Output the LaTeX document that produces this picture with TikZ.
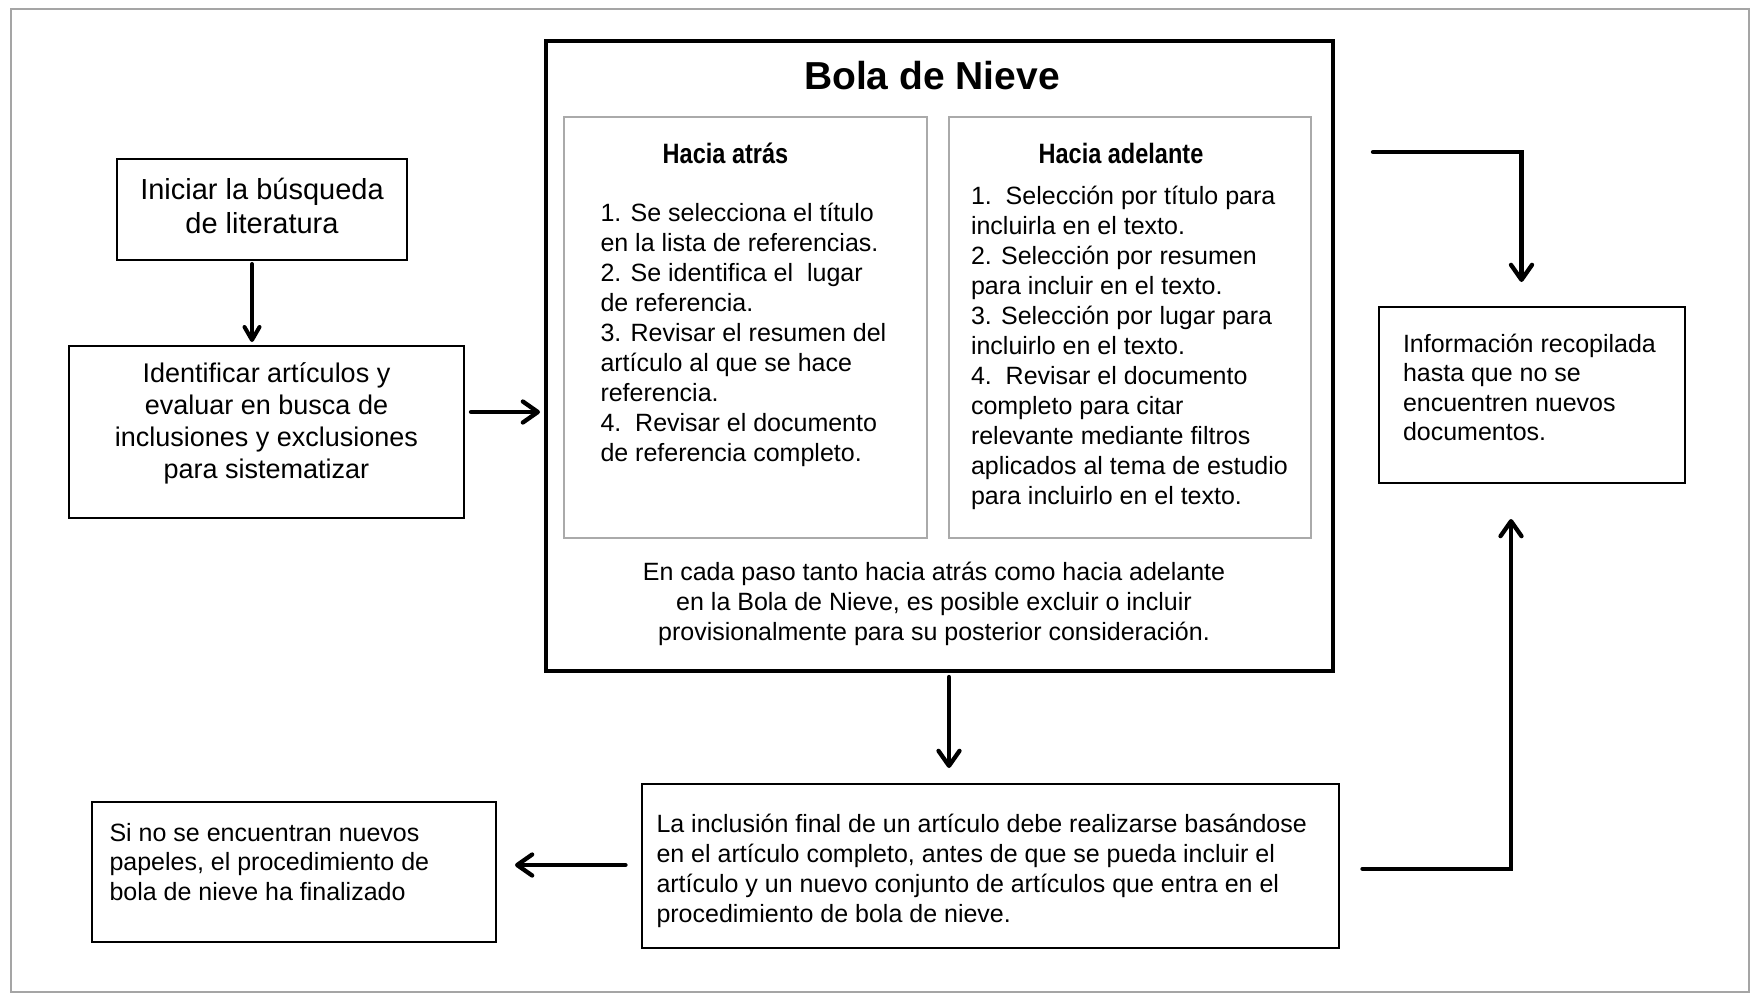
\documentclass[tikz,border=0pt]{standalone}
\usepackage{fontspec}
\setmainfont{Liberation Sans}
\usetikzlibrary{arrows.meta,calc}
\definecolor{framegray}{RGB}{165,165,165}
\definecolor{innergray}{RGB}{170,170,170}
\newcommand{\narrowtxt}[1]{\scalebox{0.84}[1]{#1}}
\begin{document}
\begin{tikzpicture}[x=1pt,y=-1pt,
  box/.style={draw=black, rectangle, inner sep=0pt, outer sep=0pt},
  innerbox/.style={draw=innergray, rectangle, line width=1.2pt, inner sep=0pt, outer sep=0pt},
  txt/.style={inner sep=0pt, outer sep=0pt, font=\fontsize{25}{30}\selectfont},
  heading/.style={inner sep=0pt, outer sep=0pt, font=\bfseries\fontsize{28}{33}\selectfont, anchor=base},
  smallarrow/.style={draw=black, line width=4pt, line cap=round, -{Straight Barb[length=13pt,width=15pt,line cap=round,line join=round]}},
  thickarrow/.style={draw=black, line width=4.3pt, line cap=round, -{Straight Barb[length=15pt,width=21pt,line cap=round,line join=round]}},
]
\useasboundingbox (0,0) rectangle (1761,1002);
% outer frame
\node[draw=framegray, line width=1.5pt, rectangle, inner sep=0pt, outer sep=0pt,
      minimum width=1738pt, minimum height=983pt] (frame) at (880,500.5) {};

% boxes
\node[box, line width=1.6pt, minimum width=290pt, minimum height=101pt] (start) at (262,209.5) {};
\node[box, line width=2.2pt, minimum width=395pt, minimum height=172pt] (ident) at (266.5,432) {};
\node[box, line width=4pt, minimum width=787pt, minimum height=630pt] (bola) at (939.5,356) {};
\node[innerbox, minimum width=363pt, minimum height=421pt] (back) at (745.5,327.5) {};
\node[innerbox, minimum width=362pt, minimum height=421pt] (fwd) at (1130,327.5) {};
\node[box, line width=2pt, minimum width=306pt, minimum height=176pt] (info) at (1532,395) {};
\node[box, line width=2.5pt, minimum width=697pt, minimum height=164pt] (incl) at (990.5,866) {};
\node[box, line width=2pt, minimum width=404pt, minimum height=140pt] (fin) at (293.5,872) {};

% texts
\node[txt, font=\fontsize{29}{34.5}\selectfont, align=center, anchor=north] (starttext) at (262,170)
  {\rule{0pt}{29pt}Iniciar la búsqueda\\de literatura};
\node[txt, font=\fontsize{27}{32}\selectfont, align=center, anchor=north] (identtext) at (266.5,355)
  {\rule{0pt}{27pt}Identificar artículos y\\evaluar en busca de\\inclusiones y exclusiones\\para sistematizar};
\node[txt, font=\bfseries\fontsize{39}{46}\selectfont, anchor=base] (title) at (932,89) {Bola de Nieve};
\node[heading] (backtitle) at (725.5,163) {\narrowtxt{Hacia atrás}};
\node[heading] (fwdtitle) at (1121,163) {\narrowtxt{Hacia adelante}};
\node[txt, align=left, anchor=north west] (backtext) at (600.5,196)
  {\rule{0pt}{25pt}1. Se selecciona el título\\
   en la lista de referencias.\\
   2. Se identifica el\ \ lugar\\
   de referencia.\\
   3. Revisar el resumen del\\
   artículo al que se hace\\
   referencia.\\
   4.\ \ Revisar el documento\\
   de referencia completo.};
\node[txt, align=left, anchor=north west] (fwdtext) at (971,179)
  {\rule{0pt}{25pt}1.\ \ Selección por título para\\
   incluirla en el texto.\\
   2. Selección por resumen\\
   para incluir en el texto.\\
   3. Selección por lugar para\\
   incluirlo en el texto.\\
   4.\ \ Revisar el documento\\
   completo para citar\\
   relevante mediante filtros\\
   aplicados al tema de estudio\\
   para incluirlo en el texto.};
\node[txt, align=center, anchor=north] (bolanote) at (934,555)
  {\rule{0pt}{25pt}En cada paso tanto hacia atrás como hacia adelante\\
   en la Bola de Nieve, es posible excluir o incluir\\
   provisionalmente para su posterior consideración.};
\node[txt, font=\fontsize{25}{29.5}\selectfont, align=left, anchor=north west] (infotext) at (1403,327)
  {\rule{0pt}{25pt}Información recopilada\\
   hasta que no se\\
   encuentren nuevos\\
   documentos.};
\node[txt, align=left, anchor=north west] (incltext) at (656.5,807)
  {\rule{0pt}{25pt}La inclusión final de un artículo debe realizarse basándose\\
   en el artículo completo, antes de que se pueda incluir el\\
   artículo y un nuevo conjunto de artículos que entra en el\\
   procedimiento de bola de nieve.};
\node[txt, font=\fontsize{25}{29.7}\selectfont, align=left, anchor=north west] (fintext) at (109.5,816)
  {\rule{0pt}{25pt}Si no se encuentran nuevos\\
   papeles, el procedimiento de\\
   bola de nieve ha finalizado};

% connectors
\draw[smallarrow] ($(start.south)+(-10,4)$) -- ($(start.south |- ident.north)+(-10,-4)$);
\draw[thickarrow] ($(ident.east)+(7,-20)$) -- ($(bola.west)+(-6,56)$);
\draw[thickarrow] ($(bola.south)+(9.5,6)$) -- ($(bola.south |- incl.north)+(9.5,-16)$);
\draw[thickarrow] ($(incl.west)+(-16.5,-1)$) -- ($(fin.east)+(19.5,-7)$);
\draw[thickarrow, line join=miter] ($(bola.north east)+(40,111)$) -| ($(info.north)+(-10.5,-25)$);
\draw[thickarrow, line join=miter] ($(incl.east)+(23.5,2.7)$) -| ($(info.south)+(-21,36)$);
\end{tikzpicture}
\end{document}
